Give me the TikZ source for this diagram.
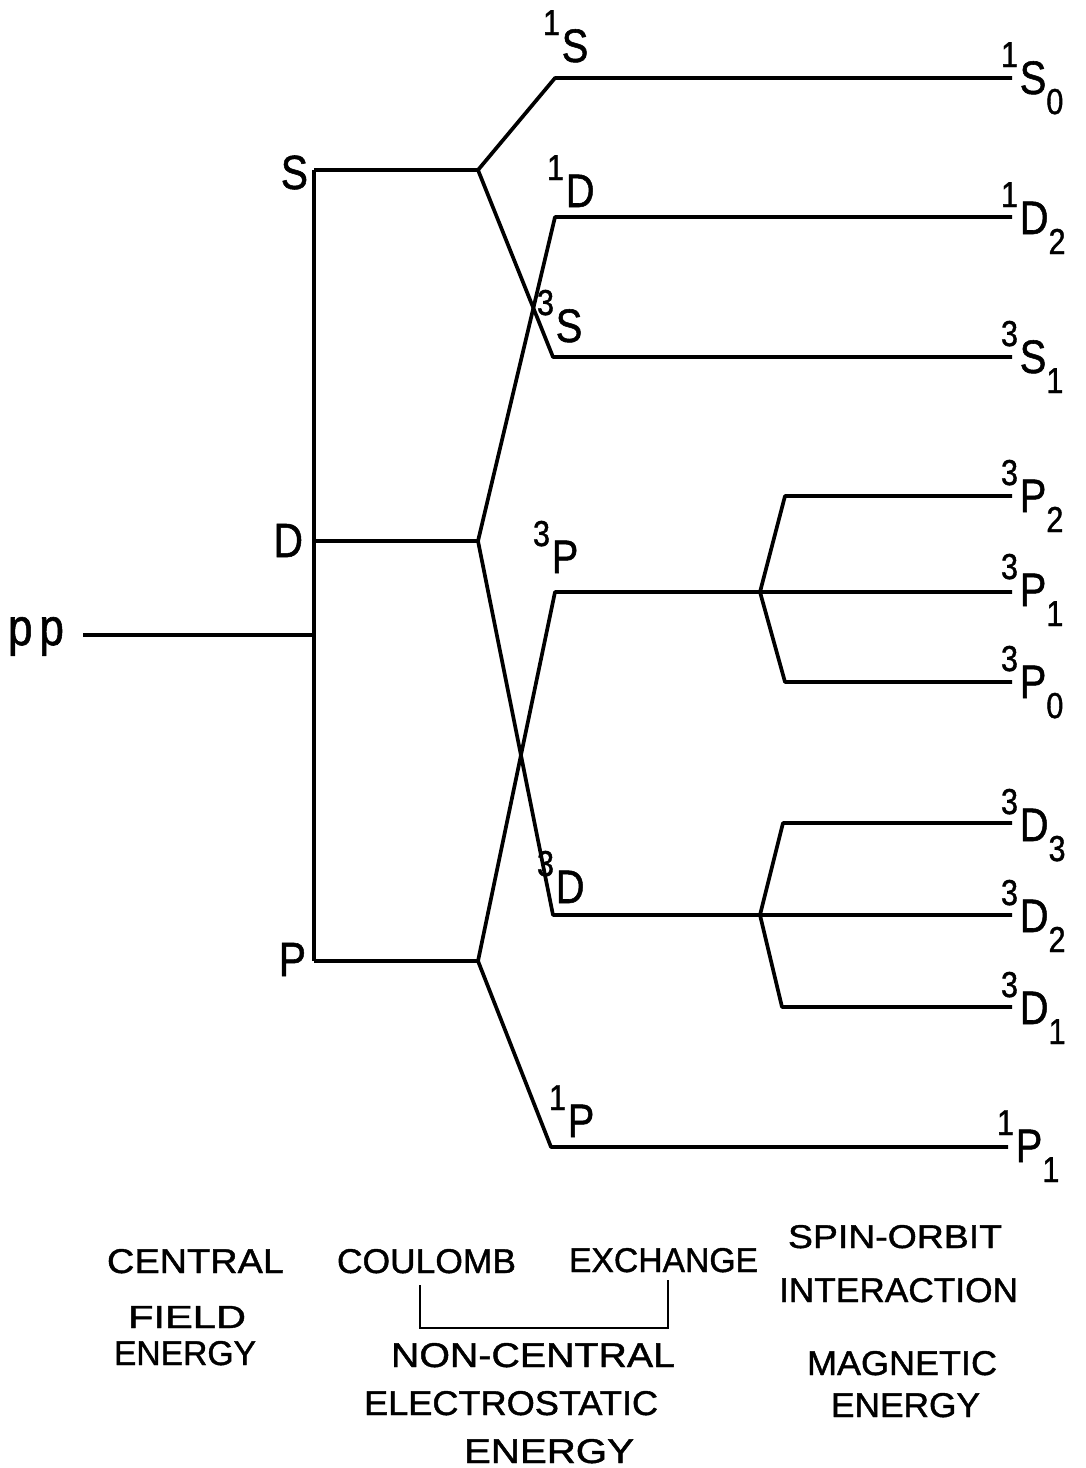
\documentclass[tikz,border=0pt]{standalone}
\usepackage{fontspec}
\setmainfont{Liberation Sans}
\newfontfamily\penfont{Liberation Sans}[FakeBold=1.2]
% spectroscopic term: superscript multiplicity, letter, subscript J
\newcommand{\specterm}[3]{\penfont\scalebox{0.85}[1]{\raisebox{27pt}{\fontsize{36}{36}\selectfont #1}\kern2pt{\fontsize{47}{47}\selectfont #2}\raisebox{-20pt}{\fontsize{36}{36}\selectfont #3}}}
% caption text stretched to a given width and cap height
\newcommand{\captext}[3]{\resizebox{#1pt}{#2pt}{\penfont #3}}
\tikzset{
  level/.style={line width=3.7pt, line join=round},
  bracketline/.style={line width=2.4pt},
  lbl/.style={inner sep=0pt, outer sep=0pt, font=\penfont},
}
\begin{document}
\begin{tikzpicture}[x=1pt,y=-1pt]
\fill[white] (0,0) rectangle (1086,1468);
\useasboundingbox (0,0) rectangle (1086,1468);

% configuration and central-field levels
\coordinate (pp0) at (83,635);
\coordinate (ppj) at (314,635);
\coordinate (Sl) at (314,170); \coordinate (Ss) at (478,170);
\coordinate (Dl) at (314,541); \coordinate (Ds) at (478,541);
\coordinate (Pl) at (314,961); \coordinate (Ps) at (478,961);
% electrostatic terms
\coordinate (t1S) at (555,78);  \coordinate (e1S0) at (1012,78);
\coordinate (t3S) at (553,357); \coordinate (e3S1) at (1012,357);
\coordinate (t1D) at (555,217); \coordinate (e1D2) at (1012,217);
\coordinate (t3D) at (553,915); \coordinate (s3D) at (760,915); \coordinate (e3D2) at (1012,915);
\coordinate (t3P) at (555,592); \coordinate (s3P) at (760,592); \coordinate (e3P1) at (1012,592);
\coordinate (t1P) at (551,1147); \coordinate (e1P1) at (1008,1147);
% fine-structure levels
\coordinate (c3P2) at (785,496);  \coordinate (e3P2) at (1012,496);
\coordinate (c3P0) at (785,682);  \coordinate (e3P0) at (1012,682);
\coordinate (c3D3) at (783,823);  \coordinate (e3D3) at (1012,823);
\coordinate (c3D1) at (782,1007); \coordinate (e3D1) at (1012,1007);

% central field
\draw[level] (pp0) -- (ppj);
\draw[level] (Sl) -- (Pl);
\draw[level] (Sl) -- (Ss);
\draw[level] (Dl) -- (Ds);
\draw[level] (Pl) -- (Ps);
% non-central electrostatic splitting
\draw[level] (Ss) -- (t1S) -- (e1S0);
\draw[level] (Ss) -- (t3S) -- (e3S1);
\draw[level] (Ds) -- (t1D) -- (e1D2);
\draw[level] (Ds) -- (t3D) -- (s3D) -- (e3D2);
\draw[level] (Ps) -- (t3P) -- (s3P) -- (e3P1);
\draw[level] (Ps) -- (t1P) -- (e1P1);
% spin-orbit splitting
\draw[level] (s3P) -- (c3P2) -- (e3P2);
\draw[level] (s3P) -- (c3P0) -- (e3P0);
\draw[level] (s3D) -- (c3D3) -- (e3D3);
\draw[level] (s3D) -- (c3D1) -- (e3D1);

% configuration and level labels
\node[lbl, anchor=base west] (lpp) at (8,645) {\scalebox{0.85}[1]{\fontsize{52}{52}\selectfont p\kern8pt p}};
\node[lbl, anchor=base east] (lS) at (308,189) {\scalebox{0.85}[1]{\fontsize{48}{48}\selectfont S}};
\node[lbl, anchor=base east] (lD) at (303,557) {\scalebox{0.85}[1]{\fontsize{48}{48}\selectfont D}};
\node[lbl, anchor=base east] (lP) at (306,976) {\scalebox{0.85}[1]{\fontsize{48}{48}\selectfont P}};

% term labels
\node[lbl, anchor=base west] (l1S) at (543,62)   {\specterm{1}{S}{}};
\node[lbl, anchor=base west] (l1D) at (547,207)  {\specterm{1}{D}{}};
\node[lbl, anchor=base west] (l3S) at (537,342)  {\specterm{3}{S}{}};
\node[lbl, anchor=base west] (l3P) at (533,573)  {\specterm{3}{P}{}};
\node[lbl, anchor=base west] (l3D) at (537,903)  {\specterm{3}{D}{}};
\node[lbl, anchor=base west] (l1P) at (549,1137) {\specterm{1}{P}{}};

% level labels at the right
\node[lbl, anchor=base west] (l1S0) at (1001,94)   {\specterm{1}{S}{0}};
\node[lbl, anchor=base west] (l1D2) at (1001,234)  {\specterm{1}{D}{2}};
\node[lbl, anchor=base west] (l3S1) at (1001,373)  {\specterm{3}{S}{1}};
\node[lbl, anchor=base west] (l3P2) at (1001,512)  {\specterm{3}{P}{2}};
\node[lbl, anchor=base west] (l3P1) at (1001,606)  {\specterm{3}{P}{1}};
\node[lbl, anchor=base west] (l3P0) at (1001,698)  {\specterm{3}{P}{0}};
\node[lbl, anchor=base west] (l3D3) at (1001,841)  {\specterm{3}{D}{3}};
\node[lbl, anchor=base west] (l3D2) at (1001,932)  {\specterm{3}{D}{2}};
\node[lbl, anchor=base west] (l3D1) at (1001,1024) {\specterm{3}{D}{1}};
\node[lbl, anchor=base west] (l1P1) at (997,1162)  {\specterm{1}{P}{1}};

% captions of the interaction stages
\node[lbl, anchor=base west] (cCentral) at (107,1273) {\captext{177}{24}{CENTRAL}};
\node[lbl, anchor=base west] (cField)   at (128,1328) {\captext{118}{22}{FIELD}};
\node[lbl, anchor=base west] (cEnergyA) at (114,1365) {\captext{142}{24}{ENERGY}};
\node[lbl, anchor=base west] (cCoulomb) at (337,1273) {\captext{179}{24}{COULOMB}};
\node[lbl, anchor=base west] (cExch)    at (569,1272) {\captext{189}{24}{EXCHANGE}};
\node[lbl, anchor=base west] (cNonC)    at (391,1367) {\captext{284}{24}{NON-CENTRAL}};
\node[lbl, anchor=base west] (cElec)    at (364,1415) {\captext{294}{24}{ELECTROSTATIC}};
\node[lbl, anchor=base west] (cEnergyB) at (464,1463) {\captext{170}{24}{ENERGY}};
\node[lbl, anchor=base west] (cSpin)    at (788,1248) {\captext{214}{23}{SPIN-ORBIT}};
\node[lbl, anchor=base west] (cInter)   at (779,1302) {\captext{239}{24}{INTERACTION}};
\node[lbl, anchor=base west] (cMagn)    at (807,1375) {\captext{190}{24}{MAGNETIC}};
\node[lbl, anchor=base west] (cEnergyC) at (831,1417) {\captext{149}{24}{ENERGY}};

% bracket joining Coulomb and exchange
\coordinate (brA) at (420,1285);
\coordinate (brB) at (420,1328);
\coordinate (brC) at (668,1328);
\coordinate (brD) at (668,1280);
\draw[bracketline] (brA) -- (brB) -- (brC) -- (brD);
\end{tikzpicture}
\end{document}
